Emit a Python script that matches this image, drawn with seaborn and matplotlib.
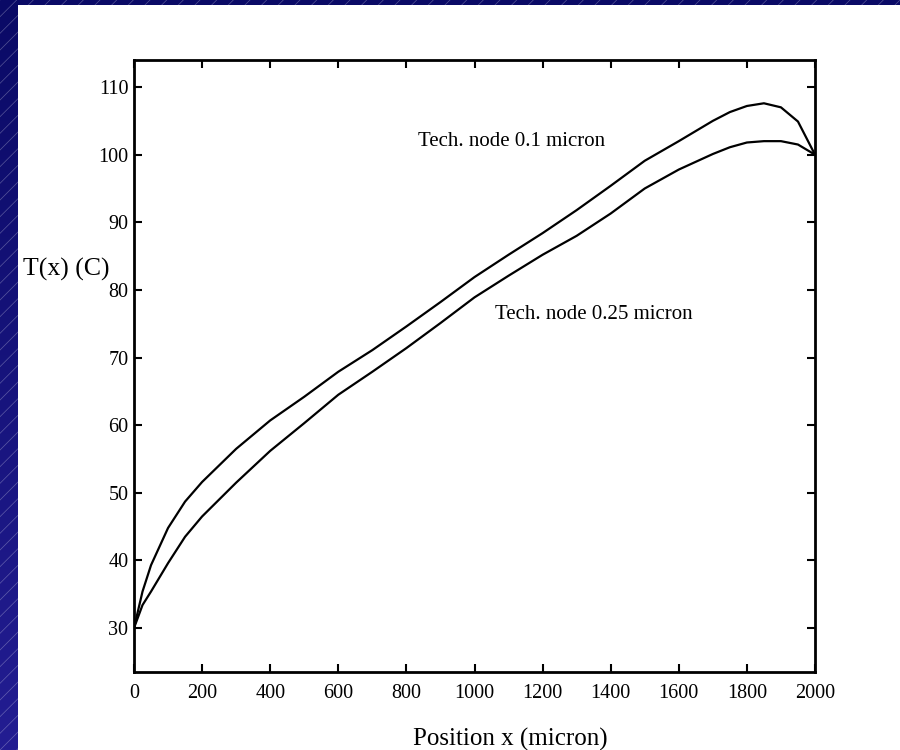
import matplotlib
matplotlib.use('Agg')

import numpy as np
import pandas as pd
import matplotlib.pyplot as plt
from matplotlib.patches import Rectangle
import seaborn as sns

# positions along the line (micron)
x_pos = [0, 25, 50, 100, 150, 200, 300, 400, 500, 600, 700, 800, 900, 1000,
         1100, 1200, 1300, 1400, 1500, 1600, 1700, 1750, 1800, 1850, 1900, 1950, 2000]
# temperature, tech node 0.1 micron
t_01 = [30, 35.4, 39.3, 44.8, 48.7, 51.6, 56.5, 60.7, 64.2, 67.9, 71.1, 74.6, 78.2, 81.9,
        85.2, 88.4, 91.8, 95.4, 99.1, 102.0, 105.0, 106.3, 107.2, 107.6, 107.0, 104.9, 100.0]
# temperature, tech node 0.25 micron
t_025 = [30, 33.4, 35.4, 39.6, 43.5, 46.5, 51.5, 56.2, 60.3, 64.5, 67.9, 71.4, 75.1, 78.9,
         82.1, 85.2, 88.0, 91.3, 95.0, 97.8, 100.1, 101.1, 101.8, 102.0, 102.0, 101.5, 100.0]

x_ticks = list(range(0, 2001, 200))
y_ticks = list(range(30, 111, 10))

df = pd.DataFrame({
    'x': x_pos * 2,
    'T': t_01 + t_025,
    'node': ['0.1'] * len(x_pos) + ['0.25'] * len(x_pos),
})

sns.set_style('ticks')
plt.rcParams['font.family'] = ['Liberation Serif', 'DejaVu Serif']
plt.rcParams['text.color'] = 'black'
plt.rcParams['axes.labelcolor'] = 'black'
plt.rcParams['hatch.linewidth'] = 0.5

fig = plt.figure(figsize=(9, 7.5), dpi=100)

# slide background: blue band with light diagonal lines, white page
bg = fig.add_axes([0, 0, 1, 1], zorder=-10)
grad = np.linspace(0, 1, 256).reshape(-1, 1)
bg.imshow(grad, aspect='auto', extent=[0, 1, 0, 1], origin='upper',
          cmap=matplotlib.colors.LinearSegmentedColormap.from_list('b', ['#0a0a66', '#231d92']))
bg.add_patch(Rectangle((0, 0), 1, 1, facecolor='none', edgecolor=(1, 1, 1, 0.3),
                       hatch='//', linewidth=0))
bg.add_patch(Rectangle((18 / 900, 0), 1, 1 - 5 / 750, facecolor='white', edgecolor='none'))
bg.set_xlim(0, 1)
bg.set_ylim(0, 1)
bg.axis('off')

ax = fig.add_axes([134 / 900, 78 / 750, 681 / 900, 612 / 750])
sns.lineplot(data=df, x='x', y='T', units='node', estimator=None, color='black',
             linewidth=1.6, ax=ax, legend=False)

ax.set_xlim(0, 2000)
ax.set_ylim(23.5, 114.0)
ax.set_xticks(x_ticks)
ax.set_yticks(y_ticks)
ax.tick_params(direction='in', length=6, width=1.5, top=True, right=True,
               labelsize=14.5, colors='black', labelcolor='black')
ax.tick_params(axis='x', pad=9)
ax.tick_params(axis='y', pad=4)
for s in ax.spines.values():
    s.set_linewidth(2)
    s.set_color('black')

ax.set_xlabel('Position x (micron)', fontsize=18, color='black')
ax.xaxis.set_label_coords(0.552, -0.092)
ax.set_ylabel('T(x) (C)', fontsize=18.5, rotation=0, ha='center', va='center', color='black')
ax.yaxis.set_label_coords(-0.1, 0.657)

ax.text(834, 101.9, 'Tech. node 0.1 micron', fontsize=15, ha='left', va='center', color='black')
ax.text(1060, 76.4, 'Tech. node 0.25 micron', fontsize=15, ha='left', va='center', color='black')

fig.savefig('out.png', dpi=100)
plt.close(fig)
